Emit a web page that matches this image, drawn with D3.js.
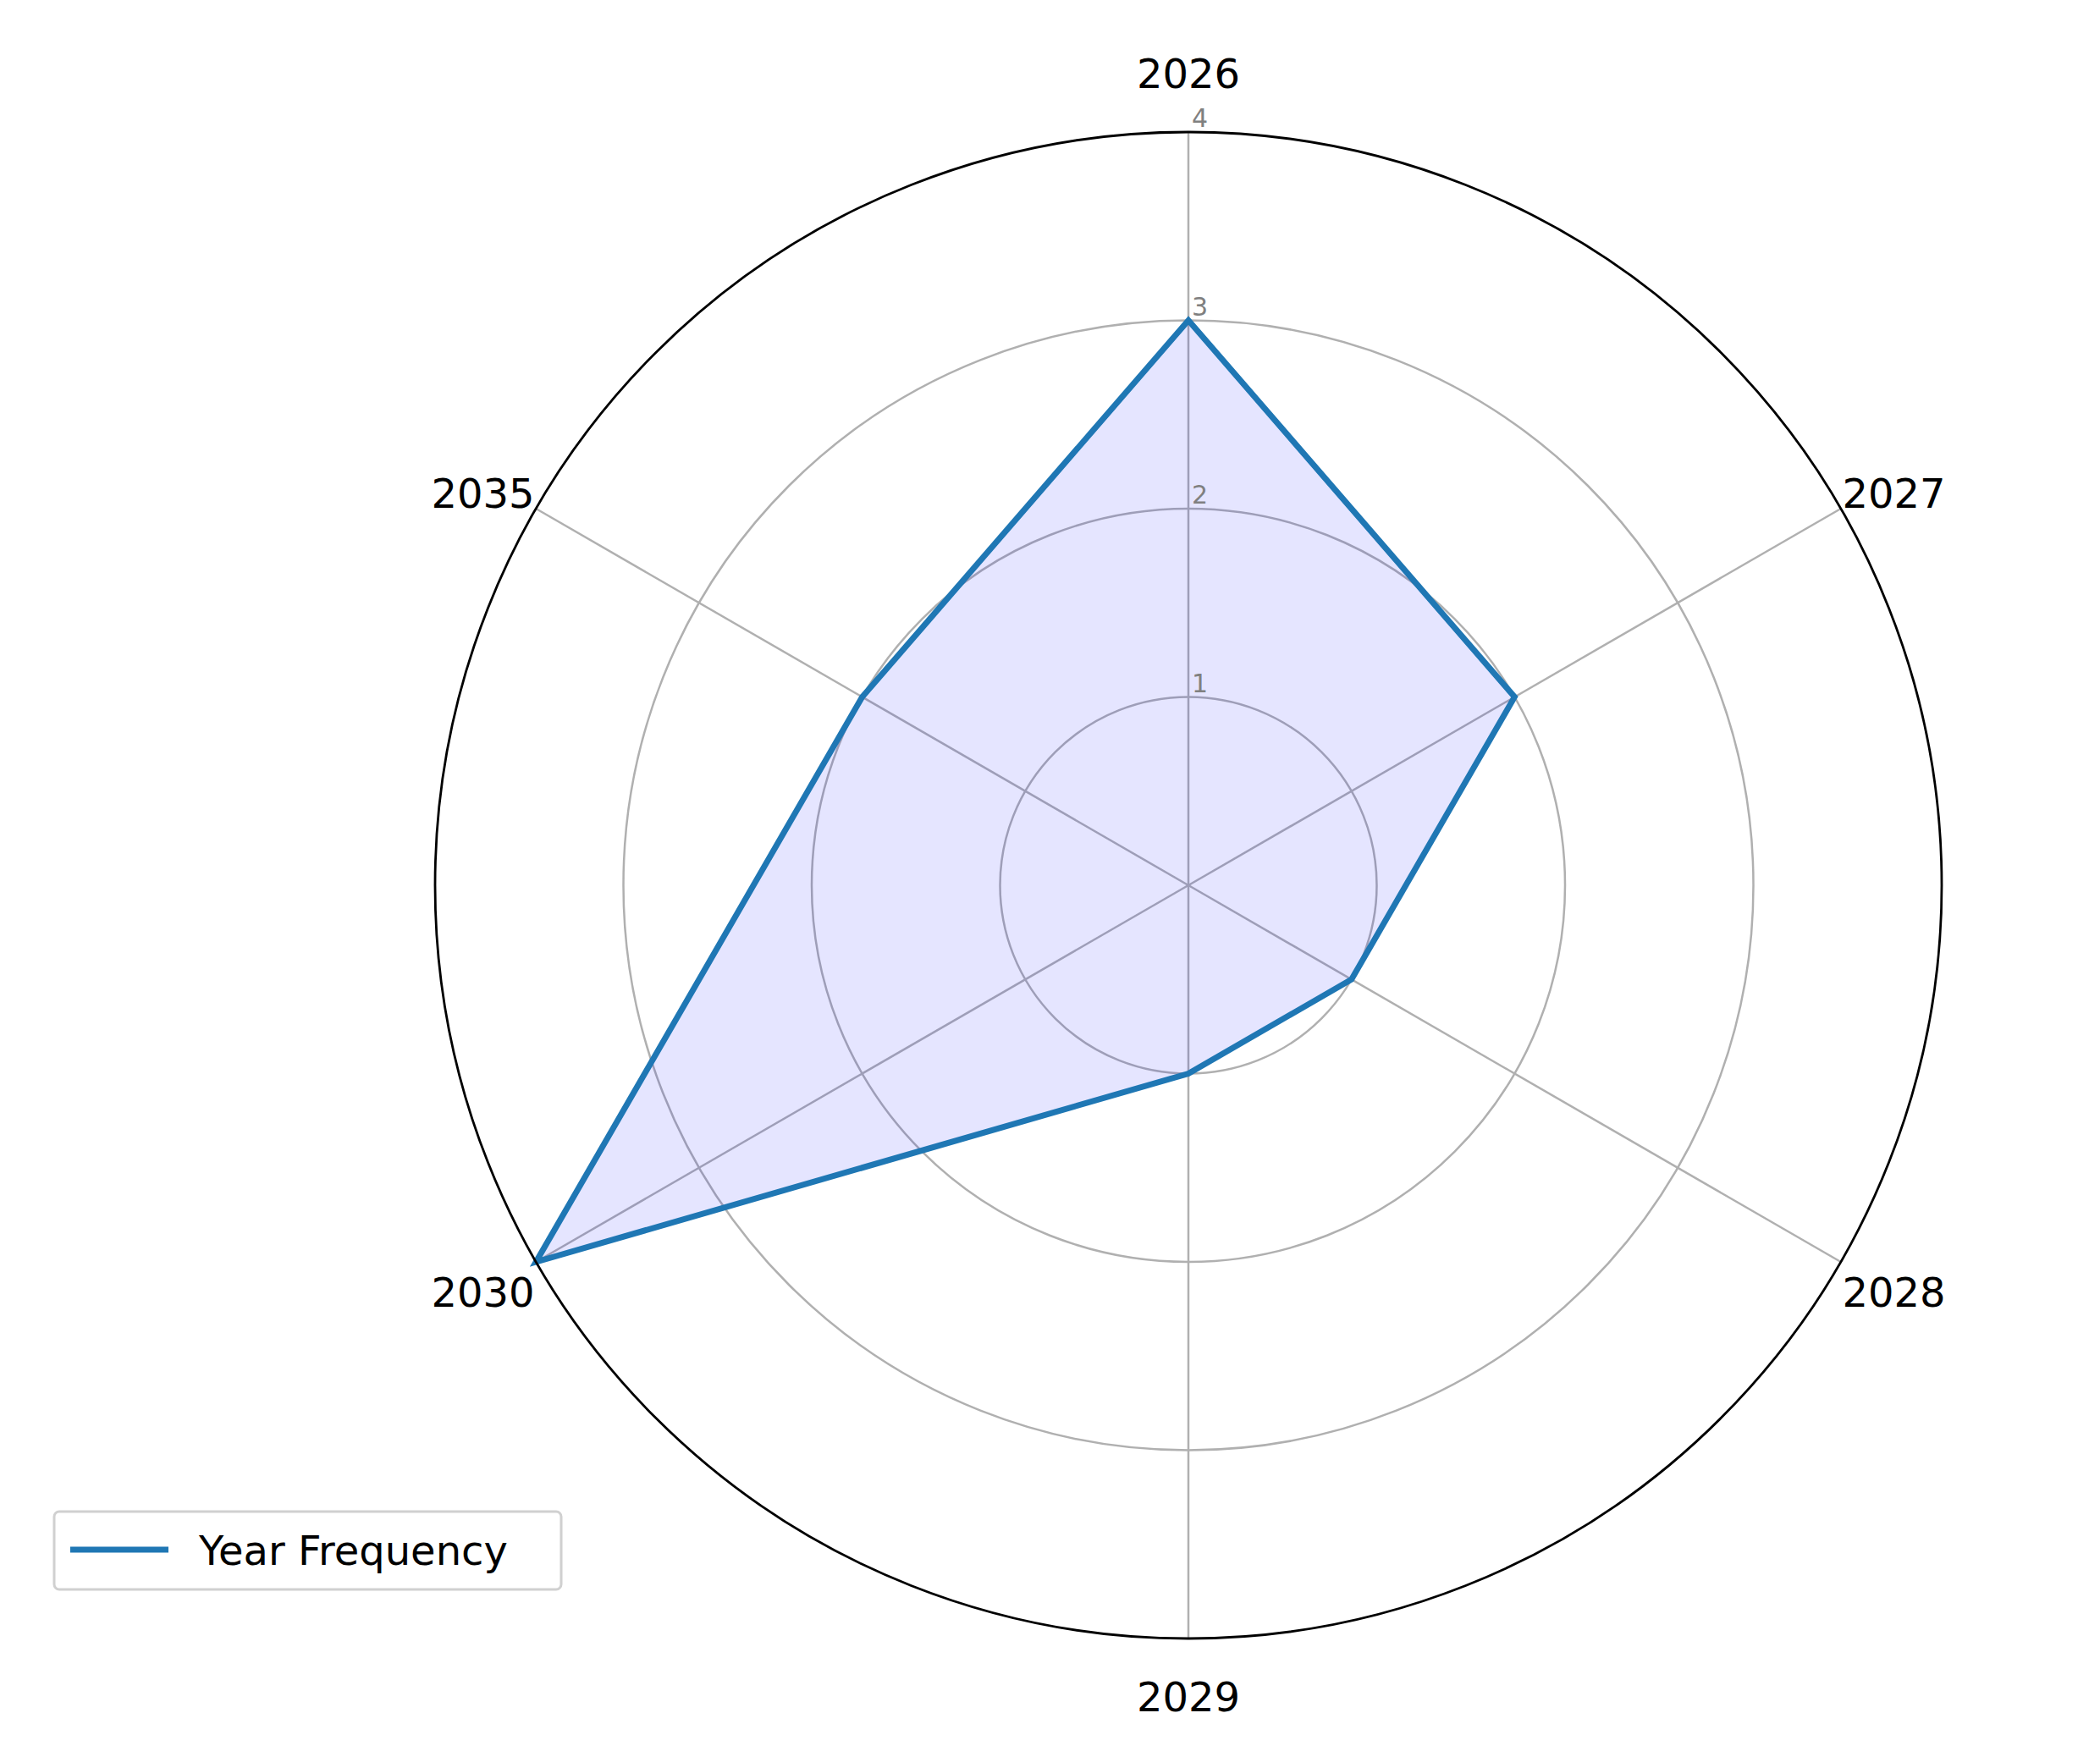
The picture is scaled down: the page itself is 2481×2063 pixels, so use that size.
<!DOCTYPE html>
<html>
<head>
<meta charset="utf-8">
<script src="https://cdn.jsdelivr.net/npm/d3@7"></script>
<style>body{margin:0;background:#fff}</style>
</head>
<body>
<div id="chart"></div>
<script>
var width = 2481, height = 2063;
var categories = ["2026", "2027", "2028", "2029", "2030", "2035"];
var values = [3, 2, 1, 1, 4, 2];
var ticks = [1, 2, 3, 4];

var cx = 1404, cy = 1046, R = 890;
var font = "DejaVu Sans, sans-serif";

var svg = d3.select("#chart").append("svg")
  .attr("width", width).attr("height", height);

var r = d3.scaleLinear().domain([0, 4]).range([0, R]);
var angle = d3.scaleLinear().domain([0, categories.length]).range([0, 2 * Math.PI]);

var g = svg.append("g").attr("transform", "translate(" + cx + "," + cy + ")");

function pt(i, v) {
  var a = angle(i);
  return [r(v) * Math.sin(a), -r(v) * Math.cos(a)];
}

// grid circles
g.selectAll("circle.grid").data(ticks.slice(0, -1)).enter().append("circle")
  .attr("r", function(d) { return r(d) })
  .attr("fill", "none").attr("stroke", "#b0b0b0").attr("stroke-width", 2.5);

// spokes
g.selectAll("line.spoke").data(categories).enter().append("line")
  .attr("x1", 0).attr("y1", 0)
  .attr("x2", function(d, i) { return pt(i, 4)[0] })
  .attr("y2", function(d, i) { return pt(i, 4)[1] })
  .attr("stroke", "#b0b0b0").attr("stroke-width", 2.5);

// data polygon
var line = d3.line().curve(d3.curveLinearClosed);
var pts = values.map(function(v, i) { return pt(i, v) });
g.append("path").attr("d", line(pts))
  .attr("fill", "#0000ff").attr("fill-opacity", 0.1).attr("stroke", "none");
g.append("path").attr("d", line(pts))
  .attr("fill", "none").attr("stroke", "#1f77b4").attr("stroke-width", 7)
  .attr("stroke-linejoin", "miter");

// outer circle
g.append("circle").attr("r", R).attr("fill", "none")
  .attr("stroke", "#000").attr("stroke-width", 2.8);

// radial tick labels
g.selectAll("text.tick").data(ticks).enter().append("text")
  .attr("x", 4).attr("y", function(d) { return -r(d) - 6 })
  .attr("font-family", font).attr("font-size", 30).attr("fill", "#808080")
  .text(function(d) { return d });

// category labels
g.selectAll("text.cat").data(categories).enter().append("text")
  .attr("x", function(d, i) {
    var p = pt(i, 4.05); var s = Math.sin(angle(i));
    return Math.abs(s) < 0.01 ? p[0] : p[0] + (s > 0 ? -8 : 8);
  })
  .attr("y", function(d, i) {
    var c = Math.cos(angle(i));
    var p = pt(i, 4.05);
    if (Math.abs(c - 1) < 0.01) return p[1] - 58;
    if (Math.abs(c + 1) < 0.01) return p[1] + 58;
    return p[1] + (c > 0 ? -12 : 30);
  })
  .attr("text-anchor", function(d, i) {
    var s = Math.sin(angle(i));
    return Math.abs(s) < 0.01 ? "middle" : (s > 0 ? "start" : "end");
  })
  .attr("dominant-baseline", "central")
  .attr("font-family", font).attr("font-size", 48).attr("fill", "#000")
  .text(function(d) { return d });

// legend
var lg = svg.append("g");
lg.append("rect").attr("x", 64).attr("y", 1786).attr("width", 599).attr("height", 92)
  .attr("rx", 6).attr("fill", "#fff").attr("stroke", "#d0d0d0").attr("stroke-width", 3);
lg.append("line").attr("x1", 83).attr("x2", 199).attr("y1", 1831).attr("y2", 1831)
  .attr("stroke", "#1f77b4").attr("stroke-width", 7);
lg.append("text").attr("x", 235).attr("y", 1832).attr("dominant-baseline", "central")
  .attr("font-family", font).attr("font-size", 48).text("Year Frequency");
</script>
</body>
</html>
